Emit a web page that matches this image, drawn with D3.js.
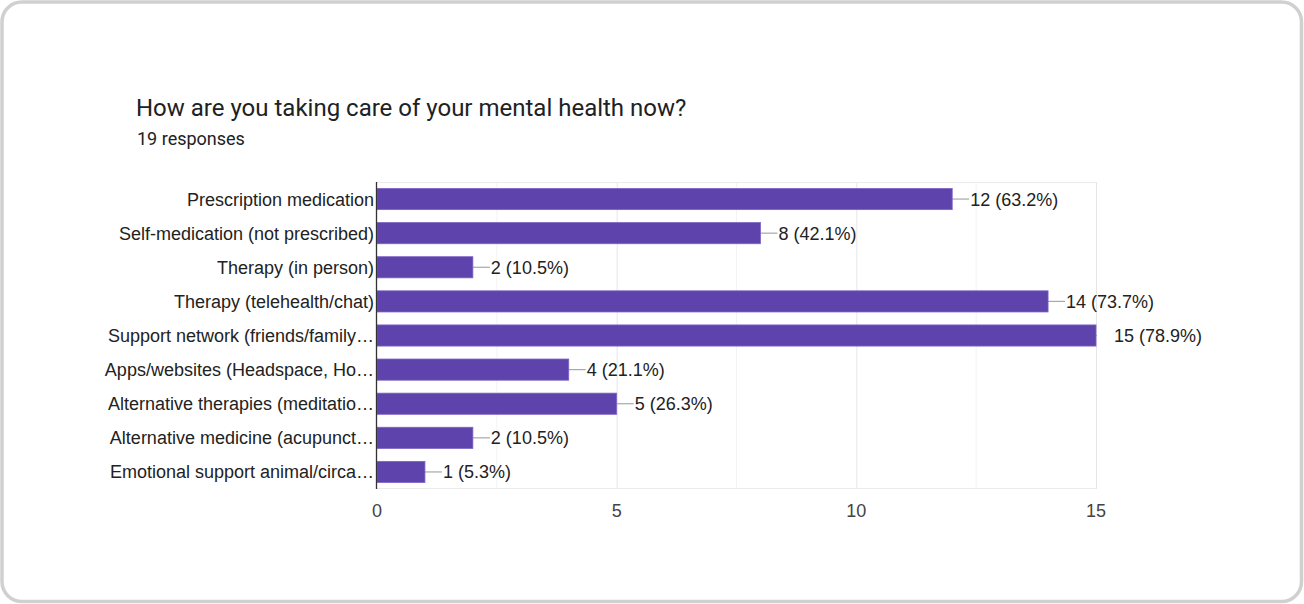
<!DOCTYPE html>
<html><head><meta charset="utf-8">
<script src="https://cdn.jsdelivr.net/npm/d3@7"></script>
<style>html,body{margin:0;padding:0;background:#fff;}svg{display:block;}</style>
</head><body>
<svg id="chart" width="1304" height="604"></svg>
<script>
const categories = [
  "Prescription medication",
  "Self-medication (not prescribed)",
  "Therapy (in person)",
  "Therapy (telehealth/chat)",
  "Support network (friends/family…",
  "Apps/websites (Headspace, Ho…",
  "Alternative therapies (meditatio…",
  "Alternative medicine (acupunct…",
  "Emotional support animal/circa…"
];
const counts = [12, 8, 2, 14, 15, 4, 5, 2, 1];
const percents = ["63.2%", "42.1%", "10.5%", "73.7%", "78.9%", "21.1%", "26.3%", "10.5%", "5.3%"];
const xTicks = [0, 5, 10, 15];
const minorTicks = [2.5, 7.5, 12.5];
const title = "How are you taking care of your mental health now?";
const subtitle = "19 responses";

(function () {
const svg = d3.select("#chart");
svg.append("rect").attr("x", 2).attr("y", 2).attr("width", 1299.5).attr("height", 599.5)
  .attr("rx", 20).attr("fill", "#fff").attr("stroke", "#d0d0d0").attr("stroke-width", 3.5);

svg.append("text").attr("x", 136).attr("y", 116).text(title)
  .attr("font-family", "Roboto").attr("font-size", 24).attr("fill", "#202124");
svg.append("text").attr("x", 137).attr("y", 145).text(subtitle)
  .attr("font-family", "Roboto").attr("font-size", 18).attr("fill", "#202124");

const pl = 377, pr = 1096, pt = 182, pb = 489;
const fs = 18;
const x = d3.scaleLinear().domain([0, 15]).range([pl, pr]);
const y = d3.scaleBand().domain(categories).range([pt, pb]).paddingInner(0.38).paddingOuter(0.19);

const g = svg.append("g");
g.selectAll("line.minor").data(minorTicks).join("line")
  .attr("x1", d => x(d)).attr("x2", d => x(d)).attr("y1", pt).attr("y2", pb)
  .attr("stroke", "#f3f3f3").attr("stroke-width", 1);
g.selectAll("line.major").data(xTicks.slice(1)).join("line")
  .attr("x1", d => x(d) + 0.5).attr("x2", d => x(d) + 0.5).attr("y1", pt).attr("y2", pb)
  .attr("stroke", "#e6e6e6").attr("stroke-width", 1);
g.append("line").attr("x1", pl).attr("x2", pr).attr("y1", pt + 0.5).attr("y2", pt + 0.5)
  .attr("stroke", "#ececec");
g.append("line").attr("x1", pl).attr("x2", pr).attr("y1", pb - 0.5).attr("y2", pb - 0.5)
  .attr("stroke", "#ececec");

g.selectAll("line.stem").data(counts).join("line")
  .attr("x1", d => x(d)).attr("x2", d => Math.min(x(d) + 17, pr + 1))
  .attr("y1", (d, i) => y(categories[i]) + y.bandwidth() / 2)
  .attr("y2", (d, i) => y(categories[i]) + y.bandwidth() / 2)
  .attr("stroke", "#a8a8a8").attr("stroke-width", 1.2);

g.selectAll("rect.bar").data(counts).join("rect")
  .attr("x", x(0)).attr("y", (d, i) => y(categories[i]))
  .attr("width", d => x(d) - x(0)).attr("height", y.bandwidth())
  .attr("fill", "#5e43ad").attr("stroke", "#7b63c4").attr("stroke-width", 0.8);

g.selectAll("text.val").data(counts).join("text")
  .attr("x", d => x(d) + 18).attr("y", (d, i) => y(categories[i]) + y.bandwidth() / 2)
  .attr("dy", "0.36em")
  .text((d, i) => d + " (" + percents[i] + ")")
  .attr("font-family", "Liberation Sans, Arial").attr("font-size", fs).attr("fill", "#222");

g.selectAll("text.cat").data(categories).join("text")
  .attr("x", pl - 3).attr("y", d => y(d) + y.bandwidth() / 2).attr("dy", "0.36em")
  .attr("text-anchor", "end").text(d => d)
  .attr("font-family", "Liberation Sans, Arial").attr("font-size", fs).attr("fill", "#222");

g.append("line").attr("x1", pl - 0.5).attr("x2", pl - 0.5).attr("y1", pt).attr("y2", pb)
  .attr("stroke", "#333").attr("stroke-width", 1.3);

g.selectAll("text.tick").data(xTicks).join("text")
  .attr("x", d => x(d)).attr("y", 517).attr("text-anchor", "middle").text(d => d)
  .attr("font-family", "Liberation Sans, Arial").attr("font-size", fs).attr("fill", "#444");
})();
</script>
</body></html>
